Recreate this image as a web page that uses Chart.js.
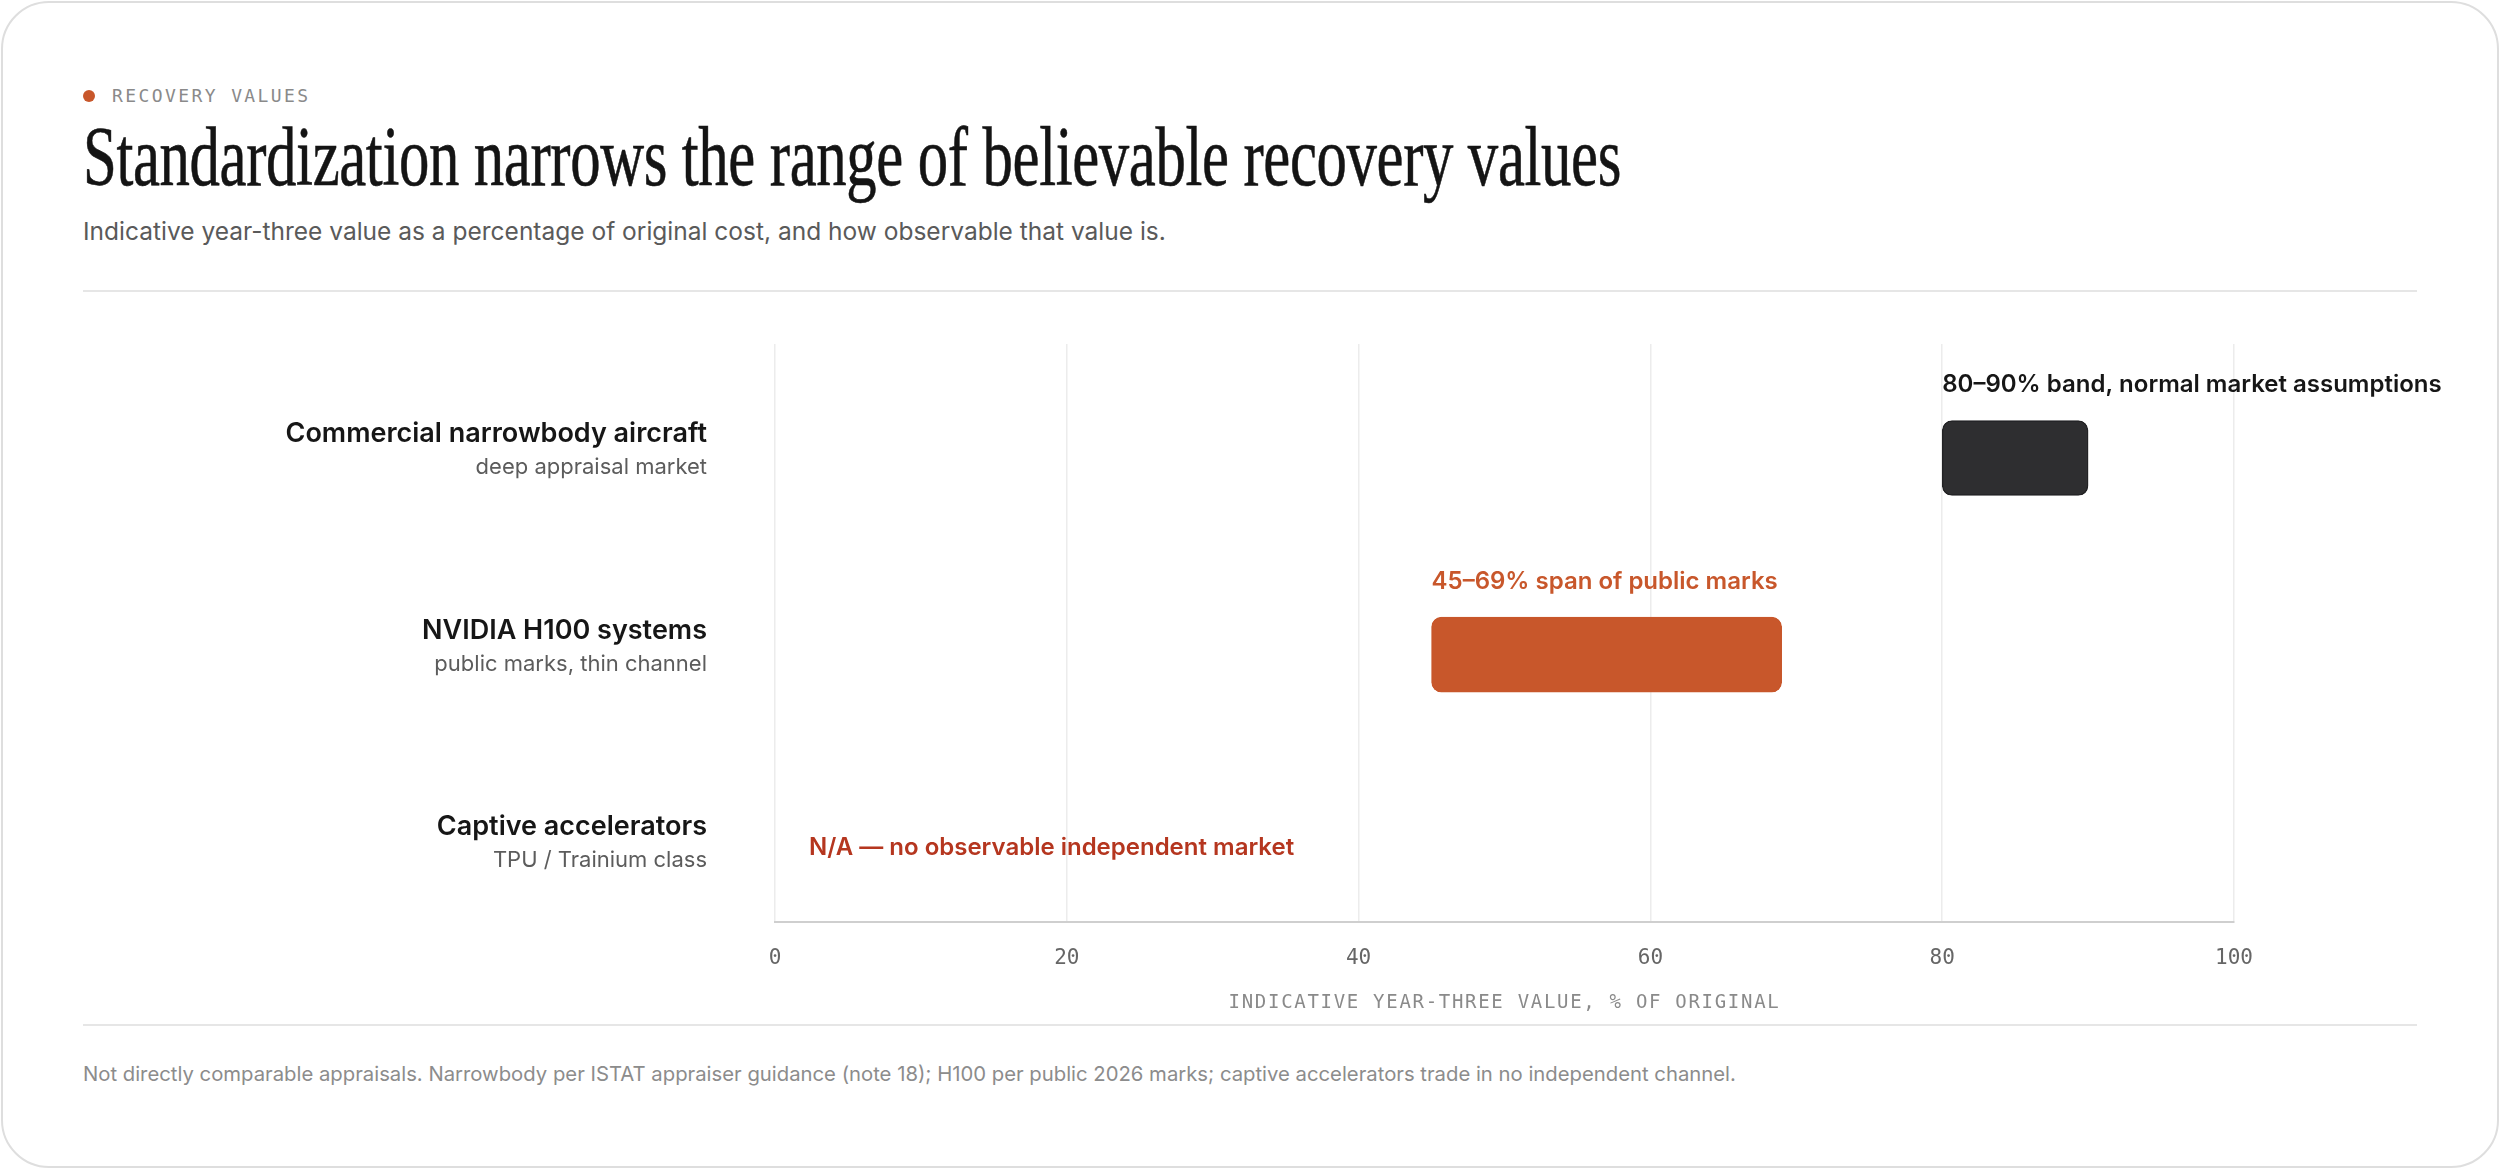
<!DOCTYPE html>
<html>
<head>
<meta charset="utf-8">
<script src="https://cdn.jsdelivr.net/npm/chart.js@4.4.1/dist/chart.umd.min.js"></script>
<style>
  html, body { margin: 0; padding: 0; background: #fff; }
  body { width: 2500px; height: 1169px; position: relative; overflow: hidden; font-family: "Inter", sans-serif; }
  .card { position: absolute; left: 1px; top: 1px; width: 2498px; height: 1167px; box-sizing: border-box;
    border: 2px solid #dedede; border-radius: 48px; }
  .eyebrow { position: absolute; left: 112px; top: 84px; line-height: 24px; font-family: "DejaVu Sans Mono", monospace;
    font-size: 18px; letter-spacing: 2.4px; color: #8a8a8a; }
  .dot { position: absolute; left: 83px; top: 90px; width: 12px; height: 12px; border-radius: 50%; background: #c8572b; }
  #title { position: absolute; left: 83px; top: 116px; line-height: 82px; font-family: "Liberation Serif", serif;
    font-size: 84px; color: #141414; white-space: nowrap; transform-origin: 0 0; letter-spacing: -0.5px;
    -webkit-text-stroke: 0.6px #141414; }
  .subtitle { position: absolute; left: 83px; top: 217px; line-height: 28px; font-size: 24.5px; color: #5a5a5a; }
  .rule { position: absolute; left: 83px; width: 2334px; height: 2px; background: #e6e6e6; }
  .footnote { position: absolute; left: 83px; top: 1062px; line-height: 24px; font-size: 20.3px; color: #8c8c8c; }
  .chart-box { position: absolute; left: 0; top: 300px; width: 2500px; height: 722px; }
</style>
</head>
<body>
<div class="card"></div>
<div class="dot"></div>
<div class="eyebrow">RECOVERY VALUES</div>
<div id="title">Standardization narrows the range of believable recovery values</div>
<div class="subtitle">Indicative year-three value as a percentage of original cost, and how observable that value is.</div>
<div class="rule" style="top:290px"></div>
<div class="chart-box"><canvas id="rangeChart"></canvas></div>
<div class="rule" style="top:1024px"></div>
<div class="footnote">Not directly comparable appraisals. Narrowbody per ISTAT appraiser guidance (note 18); H100 per public 2026 marks; captive accelerators trade in no independent channel.</div>

<script>
// Chart data
const categories = ["Commercial narrowbody aircraft", "NVIDIA H100 systems", "Captive accelerators"];
const subLabels = ["deep appraisal market", "public marks, thin channel", "TPU / Trainium class"];
const lowValues = [80, 45, null];
const highValues = [90, 69, null];
const barNotes = ["80–90% band, normal market assumptions", "45–69% span of public marks", "N/A — no observable independent market"];
const xTicks = [0, 20, 40, 60, 80, 100];
const axisTitle = "INDICATIVE YEAR-THREE VALUE, % OF ORIGINAL";

// squeeze the serif title to the condensed width of the original
const titleEl = document.getElementById("title");
titleEl.style.transform = "scaleX(" + (1538 / titleEl.scrollWidth) + ")";

const barColors = ["#2e2e30", "#c8572b"];
const noteColors = ["#161616", "#c8572b", "#b5361f"];

// rows that have an observable range
const rangeData = [];
categories.forEach((c, i) => {
  if (lowValues[i] !== null) rangeData.push({ y: i, x: [lowValues[i], highValues[i]] });
});

// labels at the left, notes above the bars, axis title
const labelPlugin = {
  id: "rowLabels",
  afterDraw(chart) {
    const { ctx, chartArea, scales } = chart;
    const x = scales.x;
    const y = scales.y;
    ctx.save();
    categories.forEach((cat, i) => {
      const cy = y.getPixelForValue(i);
      ctx.textAlign = "right";
      ctx.textBaseline = "alphabetic";
      ctx.fillStyle = "#161616";
      ctx.font = "600 27px Inter";
      ctx.fillText(cat, 707, cy - 16);
      ctx.fillStyle = "#5c5c5c";
      ctx.font = "400 22px Inter";
      ctx.fillText(subLabels[i], 707, cy + 16);

      ctx.textAlign = "left";
      ctx.fillStyle = noteColors[i];
      ctx.font = "600 24px Inter";
      if (lowValues[i] !== null) {
        ctx.fillText(barNotes[i], x.getPixelForValue(lowValues[i]), cy - 66);
      } else {
        ctx.fillText(barNotes[i], x.getPixelForValue(0) + 34, cy + 4);
      }
    });
    ctx.fillStyle = "#8a8a8a";
    ctx.font = "400 19px 'DejaVu Sans Mono'";
    ctx.letterSpacing = "1.7px";
    ctx.textAlign = "center";
    ctx.fillText(axisTitle, (chartArea.left + chartArea.right) / 2, chartArea.bottom + 86);
    ctx.restore();
  },
};

const ctx = document.getElementById("rangeChart").getContext("2d");
const rangeChart = new Chart(ctx, {
  type: "bar",
  data: {
    datasets: [
      {
        data: rangeData,
        backgroundColor: barColors,
        borderColor: ["#222224", "#c8572b"],
        borderWidth: 1.5,
        borderSkipped: false,
        borderRadius: 10,
        barThickness: 75,
      },
    ],
  },
  options: {
    indexAxis: "y",
    responsive: true,
    maintainAspectRatio: false,
    animation: false,
    layout: { padding: { left: 775, right: 266, top: 44, bottom: 0 } },
    plugins: { legend: { display: false }, tooltip: { enabled: false } },
    scales: {
      x: {
        type: "linear",
        min: 0,
        max: 100,
        afterBuildTicks: (scale) => {
          scale.ticks = xTicks.map((v) => ({ value: v }));
        },
        afterFit: (scale) => {
          scale.height = 100;
        },
        grid: { color: "#ececec", lineWidth: 1.5, drawTicks: false },
        border: { display: true, color: "#cfcfcf", width: 2 },
        ticks: {
          padding: 24,
          color: "#666",
          font: { family: "'DejaVu Sans Mono'", size: 21 },
        },
      },
      y: {
        type: "linear",
        display: false,
        offset: false,
        reverse: true,
        min: -0.58,
        max: 2.36,
      },
    },
  },
  plugins: [labelPlugin],
});
</script>
</body>
</html>
